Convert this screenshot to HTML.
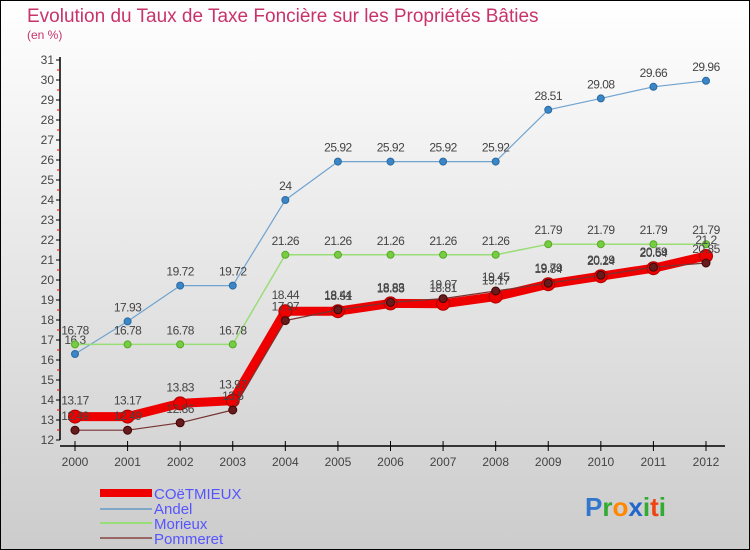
<!DOCTYPE html>
<html><head><meta charset="utf-8"><style>
body{margin:0;width:750px;height:550px;overflow:hidden}
svg{display:block}
text{font-family:"Liberation Sans",sans-serif}
</style></head><body>
<svg id="chart" width="750" height="550" xmlns="http://www.w3.org/2000/svg">
<defs><linearGradient id="bg" x1="0" y1="0" x2="0" y2="1"><stop offset="0" stop-color="#ffffff"/><stop offset="1" stop-color="#cccccc"/></linearGradient></defs>
<rect x="0.5" y="0.5" width="749" height="549" fill="url(#bg)" stroke="#000"/>
<text x="27" y="22" font-size="19" fill="#c8336a" style="font-weight:300">Evolution du Taux de Taxe Foncière sur les Propriétés Bâties</text>
<text x="27" y="39" font-size="12" fill="#c8336a">(en %)</text>
<g id="axes"></g><g id="series"></g>
<g>
<rect x="100" y="489" width="52" height="8" fill="#ee0000"/>
<text x="154" y="499" font-size="15" fill="#5555ff">COëTMIEUX</text>
<rect x="100" y="508" width="52" height="2" fill="#7fa8c8"/>
<text x="154" y="514" font-size="15" fill="#5555ff">Andel</text>
<rect x="100" y="522" width="52" height="2" fill="#99dd77"/>
<text x="154" y="529" font-size="15" fill="#5555ff">Morieux</text>
<rect x="100" y="537" width="52" height="2" fill="#996666"/>
<text x="154" y="544" font-size="15" fill="#5555ff">Pommeret</text>
</g>
<g font-size="26" font-weight="bold">
<text x="585" y="516"><tspan fill="#3377cc">P</tspan><tspan fill="#33aa33">r</tspan><tspan fill="#ff8800">o</tspan><tspan fill="#2266cc">x</tspan><tspan fill="#33aa33">i</tspan><tspan fill="#ee4411">t</tspan><tspan fill="#33aa33">i</tspan></text>
</g>
</svg>
<script>
const years=[2000,2001,2002,2003,2004,2005,2006,2007,2008,2009,2010,2011,2012];
const yTicks=[12,13,14,15,16,17,18,19,20,21,22,23,24,25,26,27,28,29,30,31];
const coetmieux=[13.17,13.17,13.83,13.97,18.44,18.44,18.83,18.81,19.17,19.79,20.19,20.59,21.2];
const andel=[16.3,17.93,19.72,19.72,24,25.92,25.92,25.92,25.92,28.51,29.08,29.66,29.96];
const morieux=[16.78,16.78,16.78,16.78,21.26,21.26,21.26,21.26,21.26,21.79,21.79,21.79,21.79];
const pommeret=[12.49,12.49,12.86,13.5,17.97,18.51,18.88,19.07,19.45,19.84,20.24,20.64,20.85];
const NS="http://www.w3.org/2000/svg";
function X(i){return 75+i*(706-75)/(years.length-1);}
function Y(v){return 440-(v-12)*20;}
function mk(tag,attrs,parent){const e=document.createElementNS(NS,tag);for(const k in attrs)e.setAttribute(k,attrs[k]);parent.appendChild(e);return e;}
const ax=document.getElementById('axes');
let a=mk('line',{x1:60,y1:Y(31)-3,x2:60,y2:Y(12),stroke:'#000','stroke-width':1.5},ax);


a=mk('line',{x1:60,y1:446,x2:725,y2:446,stroke:'#000','stroke-width':1.5},ax);


yTicks.forEach(v=>{
 mk('line',{x1:56,y1:Y(v),x2:60,y2:Y(v),stroke:'#000'},ax);
 if(v<31)mk('line',{x1:57,y1:Y(v+0.5),x2:60,y2:Y(v+0.5),stroke:'#e00'},ax);
 const t=mk('text',{x:54,y:Y(v)+4,'font-size':12,fill:'#444','text-anchor':'end'},ax);t.textContent=v;
 
 
});
years.forEach((y,i)=>{
 mk('line',{x1:X(i),y1:441,x2:X(i),y2:451,stroke:'#000'},ax);
 const t=mk('text',{x:X(i),y:466,'font-size':12,fill:'#444','text-anchor':'middle'},ax);t.textContent=y;
 
 
});
const sg=document.getElementById('series');
function draw(name,vals,color,w,r,dot,stroke,lab){
 const g=mk('g',{},sg);
 
 
 const l=mk('polyline',{points:vals.map((v,i)=>X(i)+','+Y(v)).join(' '),fill:'none',stroke:color,'stroke-width':w,'stroke-linejoin':'round'},g);
 
 
 vals.forEach((v,i)=>{
  const c=mk('circle',{cx:X(i),cy:Y(v),r:r,fill:dot,stroke:stroke,'stroke-width':1},g);
  
  
  const t=mk('text',{x:X(i),y:Y(v)-lab,'font-size':12,fill:'#444','text-anchor':'middle','letter-spacing':'-0.5'},g);t.textContent=v;
  
  
 });
}
draw('andel',andel,'#6fa3d0',1.2,3.5,'#3a86c6','#2a6aa0',10);
draw('morieux',morieux,'#99dd77',1.5,3.5,'#77cc44','#55aa22',10);
draw('coetmieux',coetmieux,'#ee0000',9,6.5,'#ee0000','#aa0000',12);
draw('pommeret',pommeret,'#773333',1.2,4,'#661c1c','#440000',10);
</script>
</body></html>
